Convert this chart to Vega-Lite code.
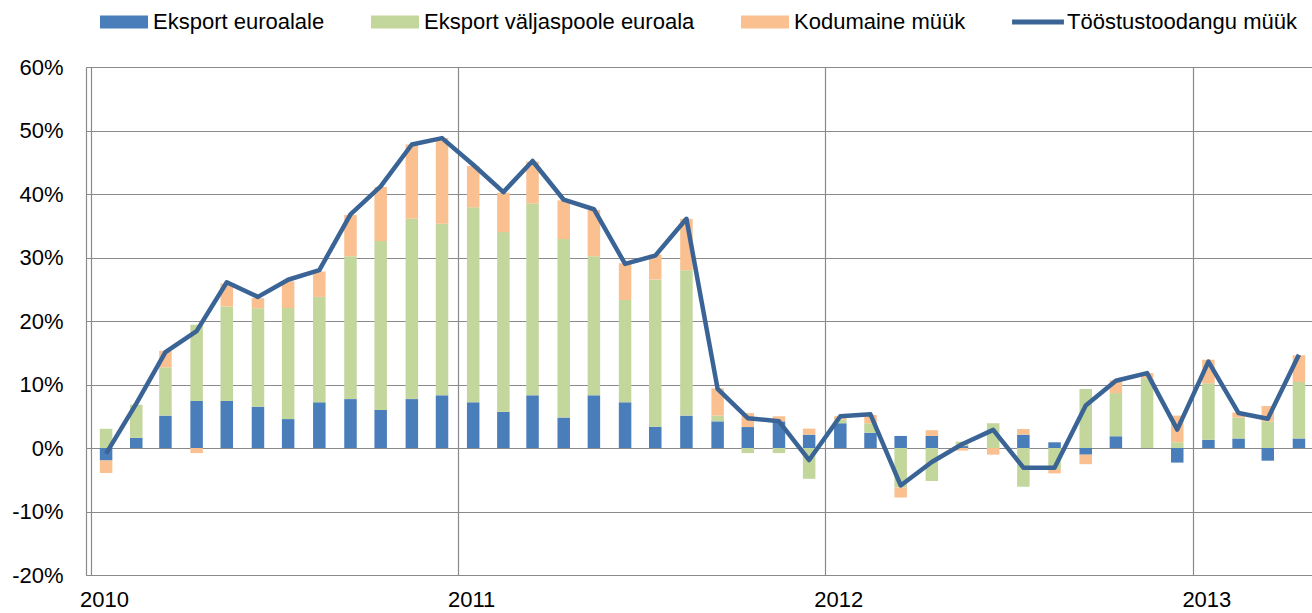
{
  "$schema": "https://vega.github.io/schema/vega-lite/v6.json",
  "width": 1226,
  "height": 508,
  "autosize": {"type": "none"},
  "padding": {"left": 86, "top": 67, "right": 0, "bottom": 38},
  "background": "white",
  "config": {
    "font": "Liberation Sans",
    "view": {"stroke": null},
    "axis": {
      "labelFont": "Liberation Sans",
      "labelFontSize": 22,
      "labelColor": "#000000",
      "gridColor": "#8A8A8A",
      "gridWidth": 1.2,
      "gridOpacity": 1,
      "domainColor": "#8A8A8A",
      "domainWidth": 1.2,
      "ticks": false,
      "title": null
    }
  },
  "data": {
    "values": [
      {"date": "2010-01-16", "Eksport euroalale": -1.95, "Eksport väljaspoole euroala": 3.05, "Kodumaine müük": -2.0, "Tööstustoodangu müük": -0.9},
      {"date": "2010-02-15", "Eksport euroalale": 1.6, "Eksport väljaspoole euroala": 5.2, "Kodumaine müük": 0, "Tööstustoodangu müük": 7.0},
      {"date": "2010-03-16", "Eksport euroalale": 5.1, "Eksport väljaspoole euroala": 7.6, "Kodumaine müük": 2.6, "Tööstustoodangu müük": 15.1},
      {"date": "2010-04-16", "Eksport euroalale": 7.4, "Eksport väljaspoole euroala": 12.0, "Kodumaine müük": -0.8, "Tööstustoodangu müük": 18.4},
      {"date": "2010-05-16", "Eksport euroalale": 7.4, "Eksport väljaspoole euroala": 14.9, "Kodumaine müük": 3.6, "Tööstustoodangu müük": 26.1},
      {"date": "2010-06-16", "Eksport euroalale": 6.5, "Eksport väljaspoole euroala": 15.5, "Kodumaine müük": 1.6, "Tööstustoodangu müük": 23.8},
      {"date": "2010-07-16", "Eksport euroalale": 4.55, "Eksport väljaspoole euroala": 17.5, "Kodumaine müük": 4.2, "Tööstustoodangu müük": 26.5},
      {"date": "2010-08-16", "Eksport euroalale": 7.2, "Eksport väljaspoole euroala": 16.6, "Kodumaine müük": 4.0, "Tööstustoodangu müük": 28.0},
      {"date": "2010-09-16", "Eksport euroalale": 7.7, "Eksport väljaspoole euroala": 22.5, "Kodumaine müük": 6.5, "Tööstustoodangu müük": 36.8},
      {"date": "2010-10-16", "Eksport euroalale": 6.0, "Eksport väljaspoole euroala": 26.6, "Kodumaine müük": 8.5, "Tööstustoodangu müük": 41.2},
      {"date": "2010-11-16", "Eksport euroalale": 7.7, "Eksport väljaspoole euroala": 28.4, "Kodumaine müük": 11.7, "Tööstustoodangu müük": 47.8},
      {"date": "2010-12-16", "Eksport euroalale": 8.3, "Eksport väljaspoole euroala": 27.0, "Kodumaine müük": 13.5, "Tööstustoodangu müük": 48.8},
      {"date": "2011-01-16", "Eksport euroalale": 7.2, "Eksport väljaspoole euroala": 30.7, "Kodumaine müük": 6.5, "Tööstustoodangu müük": 44.6},
      {"date": "2011-02-15", "Eksport euroalale": 5.7, "Eksport väljaspoole euroala": 28.3, "Kodumaine müük": 6.2, "Tööstustoodangu müük": 40.3},
      {"date": "2011-03-16", "Eksport euroalale": 8.3, "Eksport väljaspoole euroala": 30.2, "Kodumaine müük": 6.6, "Tööstustoodangu müük": 45.2},
      {"date": "2011-04-16", "Eksport euroalale": 4.8, "Eksport väljaspoole euroala": 28.1, "Kodumaine müük": 6.1, "Tööstustoodangu müük": 39.1},
      {"date": "2011-05-16", "Eksport euroalale": 8.3, "Eksport väljaspoole euroala": 21.9, "Kodumaine müük": 7.3, "Tööstustoodangu müük": 37.6},
      {"date": "2011-06-16", "Eksport euroalale": 7.2, "Eksport väljaspoole euroala": 16.1, "Kodumaine müük": 5.8, "Tööstustoodangu müük": 29.0},
      {"date": "2011-07-16", "Eksport euroalale": 3.35, "Eksport väljaspoole euroala": 23.2, "Kodumaine müük": 3.9, "Tööstustoodangu müük": 30.3},
      {"date": "2011-08-16", "Eksport euroalale": 5.1, "Eksport väljaspoole euroala": 22.9, "Kodumaine müük": 8.1, "Tööstustoodangu müük": 36.1},
      {"date": "2011-09-16", "Eksport euroalale": 4.2, "Eksport väljaspoole euroala": 0.9, "Kodumaine müük": 4.3, "Tööstustoodangu müük": 9.3},
      {"date": "2011-10-16", "Eksport euroalale": 3.3, "Eksport väljaspoole euroala": -0.8, "Kodumaine müük": 2.2, "Tööstustoodangu müük": 4.7},
      {"date": "2011-11-16", "Eksport euroalale": 4.2, "Eksport väljaspoole euroala": -0.8, "Kodumaine müük": 0.8, "Tööstustoodangu müük": 4.2},
      {"date": "2011-12-16", "Eksport euroalale": 2.1, "Eksport väljaspoole euroala": -4.85, "Kodumaine müük": 0.95, "Tööstustoodangu müük": -1.9},
      {"date": "2012-01-16", "Eksport euroalale": 3.9, "Eksport väljaspoole euroala": 0.6, "Kodumaine müük": 0.5, "Tööstustoodangu müük": 5.0},
      {"date": "2012-02-15", "Eksport euroalale": 2.4, "Eksport väljaspoole euroala": 1.5, "Kodumaine müük": 1.3, "Tööstustoodangu müük": 5.3},
      {"date": "2012-03-16", "Eksport euroalale": 1.9, "Eksport väljaspoole euroala": -6.2, "Kodumaine müük": -1.6, "Tööstustoodangu müük": -5.9},
      {"date": "2012-04-16", "Eksport euroalale": 1.9, "Eksport väljaspoole euroala": -5.2, "Kodumaine müük": 0.9, "Tööstustoodangu müük": -2.2},
      {"date": "2012-05-16", "Eksport euroalale": 0.3, "Eksport väljaspoole euroala": 0.7, "Kodumaine müük": -0.4, "Tööstustoodangu müük": 0.6},
      {"date": "2012-06-16", "Eksport euroalale": 0, "Eksport väljaspoole euroala": 3.9, "Kodumaine müük": -1.05, "Tööstustoodangu müük": 2.85},
      {"date": "2012-07-16", "Eksport euroalale": 2.1, "Eksport väljaspoole euroala": -6.1, "Kodumaine müük": 0.9, "Tööstustoodangu müük": -3.1},
      {"date": "2012-08-16", "Eksport euroalale": 0.9, "Eksport väljaspoole euroala": -3.3, "Kodumaine müük": -0.7, "Tööstustoodangu müük": -3.1},
      {"date": "2012-09-16", "Eksport euroalale": -1.05, "Eksport väljaspoole euroala": 9.3, "Kodumaine müük": -1.5, "Tööstustoodangu müük": 6.7},
      {"date": "2012-10-16", "Eksport euroalale": 1.85, "Eksport väljaspoole euroala": 6.8, "Kodumaine müük": 2.0, "Tööstustoodangu müük": 10.6},
      {"date": "2012-11-16", "Eksport euroalale": 0, "Eksport väljaspoole euroala": 11.0, "Kodumaine müük": 0.8, "Tööstustoodangu müük": 11.8},
      {"date": "2012-12-16", "Eksport euroalale": -2.3, "Eksport väljaspoole euroala": 0.9, "Kodumaine müük": 4.2, "Tööstustoodangu müük": 2.9},
      {"date": "2013-01-16", "Eksport euroalale": 1.3, "Eksport väljaspoole euroala": 8.9, "Kodumaine müük": 3.7, "Tööstustoodangu müük": 13.6},
      {"date": "2013-02-15", "Eksport euroalale": 1.5, "Eksport väljaspoole euroala": 3.3, "Kodumaine müük": 0.8, "Tööstustoodangu müük": 5.5},
      {"date": "2013-03-16", "Eksport euroalale": -2.0, "Eksport väljaspoole euroala": 4.2, "Kodumaine müük": 2.4, "Tööstustoodangu müük": 4.6},
      {"date": "2013-04-16", "Eksport euroalale": 1.5, "Eksport väljaspoole euroala": 8.9, "Kodumaine müük": 4.2, "Tööstustoodangu müük": 14.7}
    ]
  },
  "layer": [
    {
      "transform": [
        {"fold": ["Eksport euroalale", "Eksport väljaspoole euroala", "Kodumaine müük"], "as": ["series", "value"]}
      ],
      "mark": {"type": "bar", "width": 12.5, "clip": true},
      "encoding": {
        "x": {
          "field": "date",
          "type": "temporal",
          "scale": {
            "type": "utc",
            "domain": [
              {"year": 2010, "month": 1, "date": 1, "utc": true},
              {"year": 2013, "month": 4, "date": 24, "utc": true}
            ]
          },
          "axis": {
            "values": [
              {"year": 2010, "month": 1, "date": 1, "utc": true},
              {"year": 2011, "month": 1, "date": 1, "utc": true},
              {"year": 2012, "month": 1, "date": 1, "utc": true},
              {"year": 2013, "month": 1, "date": 1, "utc": true}
            ],
            "labelExpr": "utcFormat(datum.value, '%Y')",
            "labelOffset": 13,
            "labelPadding": 14,
            "labelFlush": false,
            "labelAlign": "center",
            "grid": true
          }
        },
        "y": {
          "field": "value",
          "type": "quantitative",
          "stack": "zero",
          "scale": {"domain": [-20, 60], "nice": false},
          "axis": {
            "values": [-20, -10, 0, 10, 20, 30, 40, 50, 60],
            "labelExpr": "datum.value + '%'",
            "labelPadding": 23,
            "grid": true
          }
        },
        "order": {"field": "series", "type": "nominal", "sort": "ascending"},
        "color": {
          "field": "series",
          "type": "nominal",
          "scale": {
            "domain": ["Eksport euroalale", "Eksport väljaspoole euroala", "Kodumaine müük", "Tööstustoodangu müük"],
            "range": ["#4A7EBB", "#C3D69B", "#FAC090", "#3B6496"]
          },
          "legend": {
            "orient": "none",
            "legendX": 14,
            "legendY": -69,
            "direction": "horizontal",
            "title": null,
            "labelFont": "Liberation Sans",
            "labelFontSize": 22,
            "labelColor": "#000000",
            "labelOffset": 5,
            "labelLimit": 500,
            "columnPadding": 46,
            "symbolSize": 2304,
            "symbolStrokeWidth": 0,
            "symbolOpacity": 1,
            "encode": {
              "symbols": {
                "update": {
                  "shape": [
                    {"test": "datum.value === 'Tööstustoodangu müük'", "value": "M-1.08,-0.1H1.08V0.1H-1.08Z"},
                    {"value": "M-1,-0.27H1V0.27H-1Z"}
                  ],
                  "strokeWidth": {"value": 0}
                }
              }
            }
          }
        }
      }
    },
    {
      "transform": [
        {"fold": ["Tööstustoodangu müük"], "as": ["series", "value"]}
      ],
      "mark": {"type": "line", "strokeWidth": 4.5, "clip": true, "strokeJoin": "round"},
      "encoding": {
        "x": {"field": "date", "type": "temporal"},
        "y": {"field": "value", "type": "quantitative"},
        "color": {"field": "series", "type": "nominal"}
      }
    }
  ]
}
